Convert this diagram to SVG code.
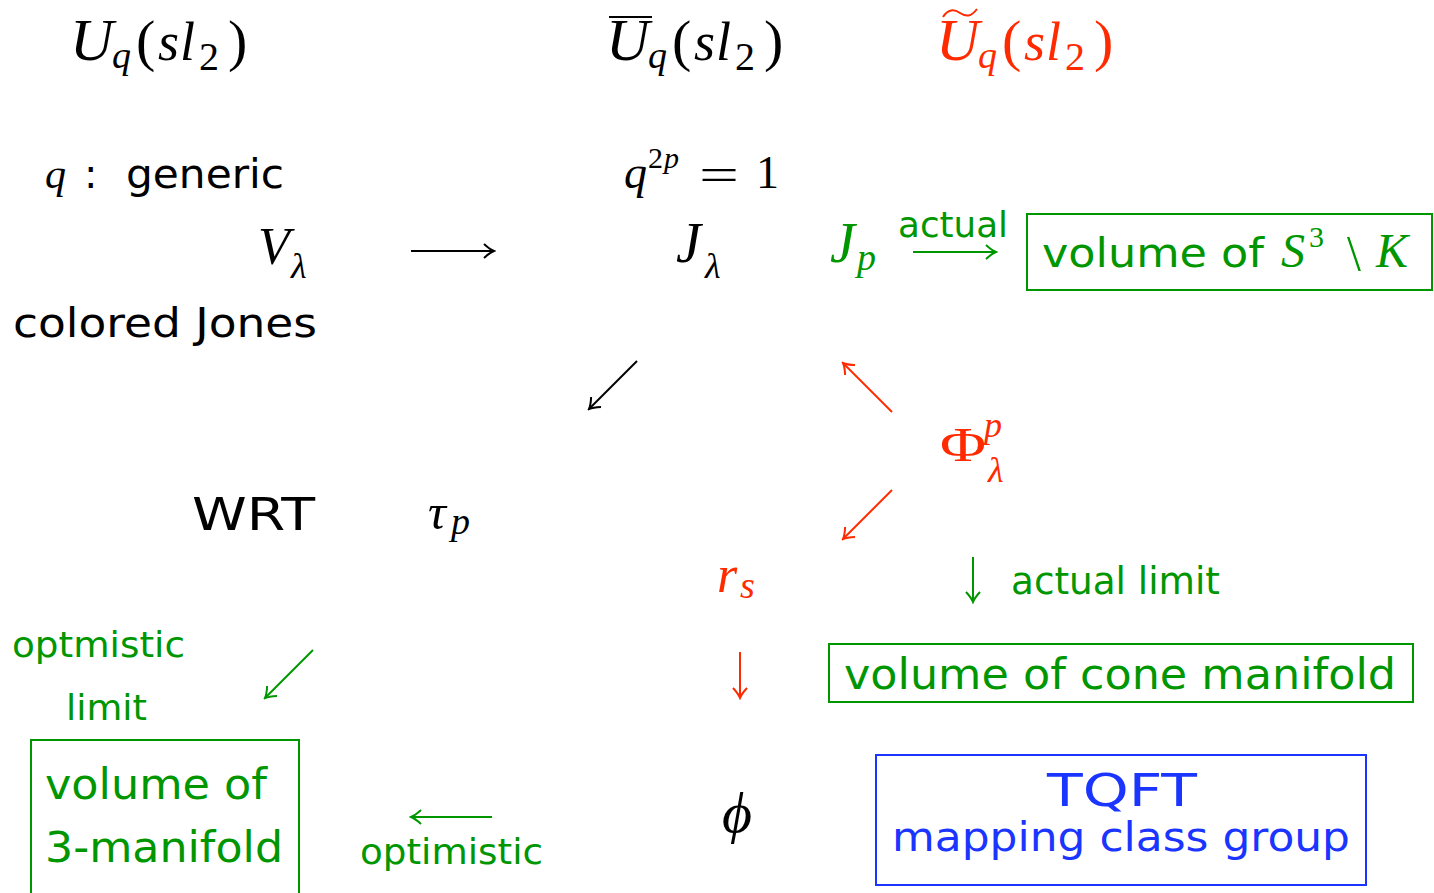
<svg xmlns="http://www.w3.org/2000/svg" width="1434" height="893" viewBox="0 0 1434 893">
<style>
.m{font-family:"Liberation Serif","DejaVu Serif",serif;font-style:italic}
.r{font-style:normal}
.s{font-family:"DejaVu Sans","Liberation Sans",sans-serif}
.k{fill:#000}
.red{fill:#ff2a00}
.grn{fill:#009600}
.blu{fill:#1a35ff}
.box{fill:none;stroke-width:2}
.cn line{stroke-width:2;fill:none}
</style>
<defs>
<marker id="hk" markerUnits="userSpaceOnUse" viewBox="-12 -9 14 18" refX="0" refY="0" markerWidth="14" markerHeight="18" orient="auto"><path d="M-10,-7 Q-4,-1.5 0,0 Q-4,1.5 -10,7" fill="none" stroke="#000" stroke-width="2"/></marker>
<marker id="hr" markerUnits="userSpaceOnUse" viewBox="-12 -9 14 18" refX="0" refY="0" markerWidth="14" markerHeight="18" orient="auto"><path d="M-10,-7 Q-4,-1.5 0,0 Q-4,1.5 -10,7" fill="none" stroke="#ff2a00" stroke-width="2"/></marker>
<marker id="hg" markerUnits="userSpaceOnUse" viewBox="-12 -9 14 18" refX="0" refY="0" markerWidth="14" markerHeight="18" orient="auto"><path d="M-10,-7 Q-4,-1.5 0,0 Q-4,1.5 -10,7" fill="none" stroke="#009600" stroke-width="2"/></marker>
</defs>
<rect width="1434" height="893" fill="#fff"/>

<g id="hdr1" class="k">
<text class="m" y="60" font-size="54"><tspan x="70" font-size="60">U</tspan><tspan x="112" y="68" font-size="38">q</tspan><tspan x="136" y="60" class="r" font-size="58">(</tspan><tspan x="158">s</tspan><tspan x="180">l</tspan><tspan x="199" y="70" class="r" font-size="40">2</tspan><tspan x="228" y="60" class="r" font-size="58">)</tspan></text>
</g>
<g id="hdr2" class="k">
<line x1="609" y1="17" x2="652" y2="17" stroke="#000" stroke-width="2"/>
<text class="m" y="60" font-size="54"><tspan x="606" font-size="60">U</tspan><tspan x="648" y="68" font-size="38">q</tspan><tspan x="672" y="60" class="r" font-size="58">(</tspan><tspan x="694">s</tspan><tspan x="716">l</tspan><tspan x="735" y="70" class="r" font-size="40">2</tspan><tspan x="764" y="60" class="r" font-size="58">)</tspan></text>
</g>
<g id="hdr3" class="red">
<path d="M943,17 C948,9 954,9 960,13 C966,17 971,17 977,9" fill="none" stroke="#ff2a00" stroke-width="2"/>
<text class="m" y="60" font-size="54"><tspan x="936" font-size="60">U</tspan><tspan x="978" y="68" font-size="38">q</tspan><tspan x="1002" y="60" class="r" font-size="58">(</tspan><tspan x="1024">s</tspan><tspan x="1046">l</tspan><tspan x="1065" y="70" class="r" font-size="40">2</tspan><tspan x="1094" y="60" class="r" font-size="58">)</tspan></text>
</g>

<g id="generic" class="k">
<text class="m" x="45" y="188" font-size="42">q</text>
<text class="s" x="84" y="188" font-size="40">:</text>
<text class="s" x="126" y="188" font-size="41" textLength="158" lengthAdjust="spacingAndGlyphs">generic</text>
</g>
<g id="root" class="k">
<text class="m" x="624" y="188" font-size="46">q</text>
<text x="648" y="168" font-size="30" font-family="Liberation Serif">2</text>
<text class="m" x="664" y="168" font-size="30">p</text>
<text x="699" y="190" font-size="46" font-family="Liberation Serif" textLength="40" lengthAdjust="spacingAndGlyphs">=</text>
<text x="756" y="188" font-size="46" font-family="Liberation Serif">1</text>
</g>

<g id="V" class="k">
<text class="m" x="258" y="264" font-size="52">V</text>
<text class="m" x="291" y="278" font-size="36">λ</text>
</g>
<g id="coloredJones" class="k"><text class="s" x="13" y="337" font-size="41" textLength="304" lengthAdjust="spacingAndGlyphs">colored Jones</text></g>
<g id="Jl" class="k">
<text class="m" x="676" y="262" font-size="56">J</text>
<text class="m" x="705" y="278" font-size="36">λ</text>
</g>
<g id="Jp" class="grn">
<text class="m" x="830" y="262" font-size="56">J</text>
<text class="m" x="857" y="270" font-size="38">p</text>
</g>
<g id="actualLbl" class="grn"><text class="s" x="898" y="237" font-size="36" textLength="110" lengthAdjust="spacingAndGlyphs">actual</text></g>
<g id="volS3K" class="grn">
<rect class="box" x="1027" y="214" width="405" height="76" stroke="#009600"/>
<text class="s" x="1042" y="267" font-size="41" textLength="222" lengthAdjust="spacingAndGlyphs">volume of</text>
<text class="m" x="1281" y="267" font-size="48">S</text>
<text x="1309" y="247" font-size="30" font-family="Liberation Serif">3</text>
<text x="1347" y="270" font-size="50" font-family="Liberation Serif">\</text>
<text class="m" x="1376" y="267" font-size="48">K</text>
</g>

<g id="Phi" class="red">
<text x="940" y="461" font-size="48" font-family="Liberation Serif" textLength="46" lengthAdjust="spacingAndGlyphs">Φ</text>
<text class="m" x="984" y="437" font-size="36">p</text>
<text class="m" x="988" y="482" font-size="36">λ</text>
</g>
<g id="WRT" class="k"><text class="s" x="192" y="530" font-size="45" textLength="123" lengthAdjust="spacingAndGlyphs">WRT</text></g>
<g id="tau" class="k">
<text class="m" x="428" y="529" font-size="50">τ</text>
<text class="m" x="451" y="534" font-size="38">p</text>
</g>
<g id="rs" class="red">
<text class="m" x="717" y="592" font-size="52">r</text>
<text class="m" x="740" y="598" font-size="38">s</text>
</g>
<g id="actualLimit" class="grn"><text class="s" x="1011" y="594" font-size="37" textLength="209" lengthAdjust="spacingAndGlyphs">actual limit</text></g>
<g id="optmistic" class="grn">
<text class="s" x="12" y="657" font-size="35" textLength="173" lengthAdjust="spacingAndGlyphs">optmistic</text>
<text class="s" x="66" y="720" font-size="35" textLength="81" lengthAdjust="spacingAndGlyphs">limit</text>
</g>
<g id="volCone" class="grn">
<rect class="box" x="829" y="644" width="584" height="58" stroke="#009600"/>
<text class="s" x="844" y="689" font-size="43" textLength="552" lengthAdjust="spacingAndGlyphs">volume of cone manifold</text>
</g>
<g id="vol3" class="grn">
<rect class="box" x="31" y="740" width="268" height="160" stroke="#009600"/>
<text class="s" x="45" y="799" font-size="43" textLength="222" lengthAdjust="spacingAndGlyphs">volume of</text>
<text class="s" x="45" y="862" font-size="43" textLength="238" lengthAdjust="spacingAndGlyphs">3-manifold</text>
</g>
<g id="optimistic" class="grn"><text class="s" x="360" y="864" font-size="35" textLength="183" lengthAdjust="spacingAndGlyphs">optimistic</text></g>
<g id="phi" class="k"><text x="722" y="832" font-size="58" font-family="Liberation Serif" font-style="italic">ϕ</text></g>
<g id="tqft" class="blu">
<rect class="box" x="876" y="755" width="490" height="130" stroke="#1a35ff"/>
<text class="s" x="1047" y="806" font-size="45" textLength="150" lengthAdjust="spacingAndGlyphs">TQFT</text>
<text class="s" x="892" y="851" font-size="41" textLength="458" lengthAdjust="spacingAndGlyphs">mapping class group</text>
</g>

<g id="connectors" class="cn">
<line x1="411" y1="251" x2="494" y2="251" stroke="#000" marker-end="url(#hk)"/>
<line x1="913" y1="252" x2="996" y2="252" stroke="#009600" marker-end="url(#hg)"/>
<line x1="637" y1="361" x2="589" y2="409" stroke="#000" marker-end="url(#hk)"/>
<line x1="892" y1="412" x2="843" y2="363" stroke="#ff2a00" marker-end="url(#hr)"/>
<line x1="892" y1="490" x2="843" y2="539" stroke="#ff2a00" marker-end="url(#hr)"/>
<line x1="973" y1="557" x2="973" y2="602" stroke="#009600" marker-end="url(#hg)"/>
<line x1="740" y1="652" x2="740" y2="698" stroke="#ff2a00" marker-end="url(#hr)"/>
<line x1="313" y1="650" x2="265" y2="698" stroke="#009600" marker-end="url(#hg)"/>
<line x1="492" y1="817" x2="411" y2="817" stroke="#009600" marker-end="url(#hg)"/>
</g>
</svg>
